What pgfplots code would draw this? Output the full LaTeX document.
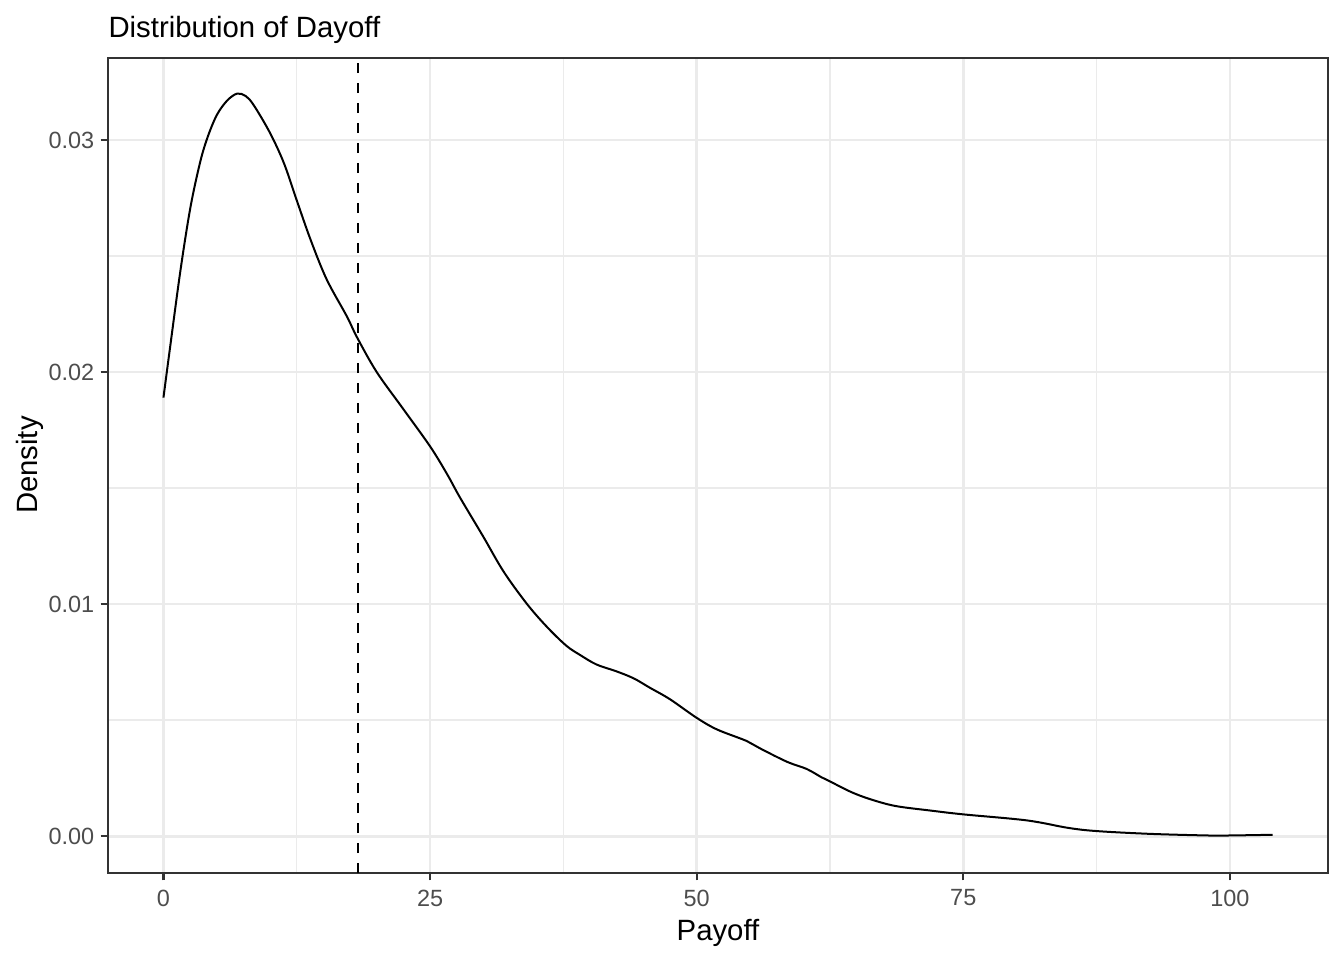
\documentclass[border=0pt]{standalone}
\usepackage{fontspec}
\setmainfont{Liberation Sans}
\usepackage{pgfplots}
\pgfplotsset{compat=1.18}
\definecolor{gridc}{HTML}{EBEBEB}
\definecolor{grey20}{HTML}{333333}
\definecolor{grey30}{HTML}{4D4D4D}
\begin{document}
\begin{tikzpicture}
\path (0,0) rectangle (504pt,360pt);
\begin{axis}[
  at={(40.5pt,32.6pt)}, anchor=south west,
  scale only axis, width=457.5pt, height=305.6pt,
  xmin=-5.2, xmax=109.2, ymin=-0.00159, ymax=0.03353,
  xtick={0,25,50,75,100}, ytick={0,0.01,0.02,0.03},
  minor xtick={12.5,37.5,62.5,87.5}, minor ytick={0.005,0.015,0.025},
  grid=both,
  major grid style={gridc, line width=1.0pt},
  minor grid style={gridc, line width=0.5pt},
  minor tick length=0pt,
  major tick length=2.75pt,
  tick align=outside,
  xtick pos=left, ytick pos=left,
  tick style={grey20, line width=0.8pt},
  axis line style={grey20, line width=0.8pt},
  scaled y ticks=false,
  y tick label style={xshift=1.1pt, /pgf/number format/fixed, /pgf/number format/fixed zerofill, /pgf/number format/precision=2},
  tick label style={font=\fontsize{8.8}{10}\selectfont, text=grey30},
  /pgf/number format/assume math mode=true,
]
\addplot[black, line width=0.75pt, dash pattern=on 3.75pt off 3.75pt] coordinates {(18.2,-0.00159) (18.2,0.03353)};
\addplot[black, line width=0.75pt, smooth, tension=0.55] coordinates {
(0,0.0189) (0.66,0.0212) (1.6,0.0244) (2.53,0.0271) (3.47,0.0291) (4.2,0.0302)
(5.03,0.0311) (5.97,0.0317) (6.9,0.0320) (7.7,0.0319) (8.47,0.0315) (10.0,0.0303)
(11.3,0.0290) (12.5,0.0274) (13.8,0.0257) (15.3,0.0240) (17.2,0.0224) (18.15,0.0215)
(20.0,0.0200) (22.5,0.0184) (25.0,0.0168) (26.6,0.0156) (27.8,0.0146) (30.0,0.0129)
(31.9,0.0114) (34.1,0.0100) (36.0,0.0090) (37.8,0.0082) (39.1,0.0078) (40.6,0.0074)
(42.5,0.0071) (44.1,0.0068) (45.6,0.0064) (47.5,0.0059) (50.0,0.0051) (51.9,0.0046)
(54.7,0.0041) (56.0,0.00377) (58.5,0.0032) (60.3,0.0029) (61.7,0.00254) (62.5,0.00236)
(64.5,0.0019) (66.3,0.00159) (68.65,0.00130) (72,0.0011) (75,0.00094) (80.96,0.00068)
(84.8,0.00036) (87.5,0.00022) (92.5,0.0001) (97.9,0.00003) (100,0.00003) (104,0.00006)
};
\end{axis}
\node[anchor=base west, inner sep=0pt, font=\fontsize{11}{13}\selectfont] at (40.5pt,346.1pt) {Distribution of Dayoff};
\node[anchor=base, inner sep=0pt, font=\fontsize{11}{13}\selectfont] at (269.25pt,7.5pt) {Payoff};
\node[anchor=base, rotate=90, inner sep=0pt, font=\fontsize{11}{13}\selectfont] at (13.9pt,185.6pt) {Density};
\end{tikzpicture}
\end{document}
